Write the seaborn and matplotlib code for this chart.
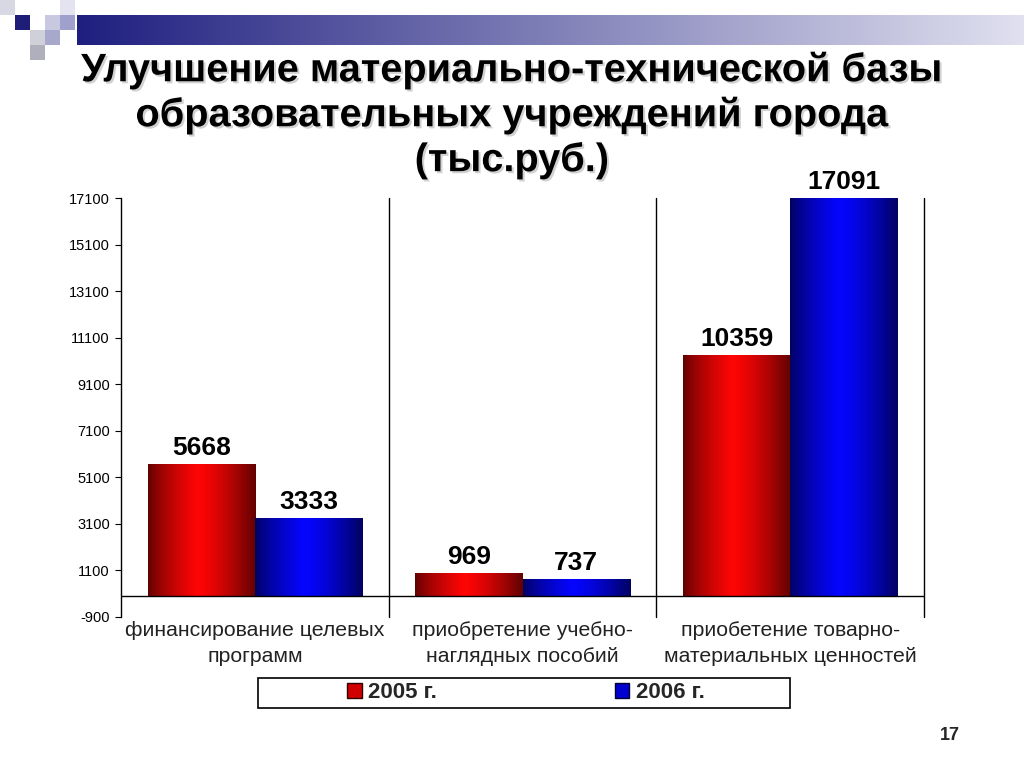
import numpy as np
import pandas as pd
import matplotlib
matplotlib.use("Agg")
import matplotlib.pyplot as plt
import matplotlib.patheffects as pe
import seaborn as sns
from matplotlib.patches import Rectangle

# ---- data ----
categories = ["финансирование целевых\nпрограмм",
              "приобретение учебно-\nнаглядных пособий",
              "приобетение товарно-\nматериальных ценностей"]
years = ["2005 г.", "2006 г."]
values_2005 = [5668, 969, 10359]
values_2006 = [3333, 737, 17091]
yticks = list(range(-900, 17101, 2000))
title_lines = ["Улучшение материально-технической базы",
               "образовательных учреждений города",
               "(тыс.руб.)"]
page_number = "17"

df = pd.DataFrame({
    "cat": categories * 2,
    "year": [years[0]] * len(categories) + [years[1]] * len(categories),
    "val": values_2005 + values_2006,
})

sns.set_theme(style="white")
plt.rcParams['font.family'] = ['Liberation Sans', 'DejaVu Sans']

W, H = 1024, 768
fig = plt.figure(figsize=(W / 100, H / 100), dpi=100)
fig.patch.set_facecolor("white")

def fx(px):
    return px / W

def fy(py):
    return 1 - py / H

# ---- decorations ----
deco = fig.add_axes([fx(77), fy(45), fx(1024 - 77), (45 - 15) / H])
t = np.linspace(0, 1, 512)
c0 = np.array([0.12, 0.12, 0.50])
c1 = np.array([0.88, 0.88, 0.94])
grad = c0[None, :] * (1 - t[:, None]) + c1[None, :] * t[:, None]
deco.imshow(grad[None, :, :], aspect="auto", extent=[0, 1, 0, 1])
deco.set_axis_off()

squares = [
    (0, 0, "#d8d8e4"), (15, 15, "#1e1e78"), (45, 15, "#c8c8e0"), (60, 15, "#a0a0cc"),
    (60, 0, "#e4e4f0"), (30, 30, "#d0d0d8"), (45, 30, "#a8a8cc"), (30, 45, "#b0b0bc"),
]
for (x, y, c) in squares:
    fig.add_artist(Rectangle((fx(x), fy(y + 15)), fx(15), 15 / H,
                             transform=fig.transFigure, fc=c, ec="none", zorder=1))

shadow = [pe.withSimplePatchShadow(offset=(1.5, -1.5), shadow_rgbFace="#999999", alpha=0.45)]
for line, ypx in zip(title_lines, [70, 115, 160]):
    fig.text(0.5, fy(ypx), line, ha="center", va="center", fontsize=28.6,
             fontweight="bold", color="black", path_effects=shadow)

# ---- chart ----
ax = fig.add_axes([fx(121), fy(617), fx(924 - 121), (617 - 198) / H])
sns.barplot(data=df, x="cat", y="val", hue="year", palette=["#e00000", "#0000e0"],
            width=0.8, ax=ax, legend=False, linewidth=0.6, edgecolor="#202020")

ax.set_xlim(-0.5, 2.5)
ax.set_ylim(-900, 17100)

tt = np.linspace(0, 1, 256)
prof = np.where(tt < 0.45, 0.35 + 0.65 * (tt / 0.45) ** 0.7,
                1 - 0.62 * ((tt - 0.45) / 0.55) ** 1.4)
red_img = np.stack([prof, 0.02 * prof, 0.02 * prof], axis=-1)
blue_img = np.stack([0.02 * prof, 0.02 * prof, prof], axis=-1)

for p in list(ax.patches):
    fc = p.get_facecolor()
    is_red = fc[0] > fc[2]
    img = red_img if is_red else blue_img
    p.set_edgecolor("#300000" if is_red else "#000030")
    x0, y0 = p.get_x(), p.get_y()
    w, h = p.get_width(), p.get_height()
    im = ax.imshow(img[None, :, :], extent=[x0, x0 + w, y0, y0 + h],
                   aspect="auto", zorder=p.get_zorder() + 0.1)
    im.set_clip_path(p)

ax.set_xlim(-0.5, 2.5)
ax.set_ylim(-900, 17100)
ax.set_aspect("auto")

label_sets = [values_2005, values_2006]
for cont, vals in zip(ax.containers, label_sets):
    ax.bar_label(cont, labels=[str(v) for v in vals], padding=3,
                 fontsize=19, fontweight="bold", color="black")

ax.axhline(0, color="black", lw=1.0, zorder=5)
for xv in [0.5, 1.5, 2.5]:
    ax.axvline(xv, color="black", lw=1.0, zorder=5, clip_on=False)

for s in ["top", "right", "bottom"]:
    ax.spines[s].set_visible(False)
ax.spines["left"].set_color("black")
ax.spines["left"].set_linewidth(1.0)

ax.set_yticks(yticks)
ax.set_yticklabels([str(v) for v in yticks])
ax.tick_params(axis="y", left=True, direction="out", length=4, width=0.8,
               labelsize=10.5, colors="black", pad=4)
ax.tick_params(axis="x", bottom=False, length=0, pad=3, colors="#222222")
for lbl in ax.get_xticklabels():
    lbl.set_fontsize(15.3)
    lbl.set_linespacing(1.45)
ax.set_xlabel("")
ax.set_ylabel("")
ax.grid(False)

# ---- legend ----
handles = [Rectangle((0, 0), 1, 1, fc="#d00000", ec="#300000"),
           Rectangle((0, 0), 1, 1, fc="#0000d0", ec="#000030")]
fig.legend(handles, years, loc="center", bbox_to_anchor=(fx(526), fy(693)),
           ncol=2, frameon=False, columnspacing=8.0, handlelength=0.65,
           handleheight=0.65, handletextpad=0.3,
           prop={"weight": "bold", "size": 16})
fig.add_artist(Rectangle((fx(258), fy(708)), fx(532), 30 / H,
                         transform=fig.transFigure, fill=False, ec="black", lw=1.2))

fig.text(fx(950), fy(736), page_number, ha="center", va="center",
         fontsize=13, fontweight="bold")

fig.savefig("out.png", dpi=100)
